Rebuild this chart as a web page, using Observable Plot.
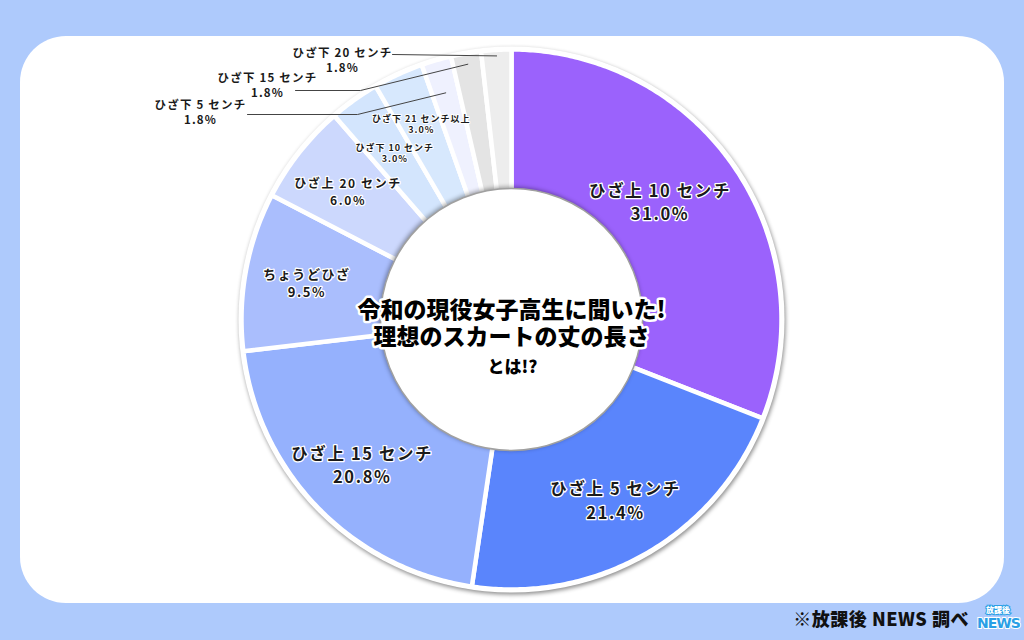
<!DOCTYPE html>
<html>
<head>
<meta charset="utf-8">
<script src="https://cdn.jsdelivr.net/npm/d3@7"></script>
<script src="https://cdn.jsdelivr.net/npm/@observablehq/plot@0.6"></script>
<style>
  html, body { margin: 0; padding: 0; }
  body { width: 1024px; height: 640px; overflow: hidden; position: relative; background: #aecafc; font-family: "Noto Sans CJK JP", "Noto Sans", sans-serif; }
  #card { position: absolute; left: 20px; top: 36px; width: 984px; height: 567px; background: #ffffff; border-radius: 46px; }
  #chart { position: absolute; left: 0; top: 0; }
  #caption { position: absolute; right: 55px; top: 604px; font-size: 18px; font-weight: 900; color: #111; letter-spacing: 0.5px; line-height: 28px; }
  #logo { position: absolute; left: 977px; top: 605px; width: 42px; text-align: center; }
  #logo .a { font-size: 8px; line-height: 10px; height: 10px; font-weight: 900; color: #fff; -webkit-text-stroke: 2px #2a9fe6; paint-order: stroke; display: block; }
  #logo .b { font-size: 14px; line-height: 16px; height: 16px; font-weight: 900; color: #2a9fe6; -webkit-text-stroke: 2px #ffffff; paint-order: stroke; display: block; font-family: "DejaVu Sans", sans-serif; letter-spacing: -1px; }
</style>
</head>
<body>
<div id="card"></div>
<div id="chart"></div>
<div id="caption">※放課後 NEWS 調べ</div>
<div id="logo"><span class="a">放課後</span><span class="b">NEWS</span></div>
<script>
// ---- data ----
const labels = ["ひざ上 10 センチ", "ひざ上 5 センチ", "ひざ上 15 センチ", "ちょうどひざ", "ひざ上 20 センチ",
                "ひざ下 10 センチ", "ひざ下 21 センチ以上", "ひざ下 5 センチ", "ひざ下 15 センチ", "ひざ下 20 センチ"];
const values = [31.0, 21.4, 20.8, 9.5, 6.0, 3.0, 3.0, 1.8, 1.8, 1.8];
const colors = ["#9b62fc", "#5a85fc", "#95b1fd", "#aabefd", "#ccd8fd", "#d3e5fd", "#d7e8fd", "#eff1fe", "#e4e4e4", "#ededed"];
const titleLines = ["令和の現役女子高生に聞いた!", "理想のスカートの丈の長さ"];
const titleTail = "とは!?";

// ---- layout ----
const W = 1024, H = 640, cx = 511, cy = 319, R = 270, R0 = 131;
const labelR = 208;
const labelOverride = {0: {r: 190, shift: -4.3}, 5: {r: 203, shift: 0.5}, 6: {r: 215, shift: 0}}; // degrees
const outsideLayout = {
  "ひざ下 5 センチ":  {tx: -311, ty: -208, sx: -264, ly: -205, ex: -154, er: 236},
  "ひざ下 15 センチ": {tx: -244, ty: -235, sx: -216, ly: -229, ex: -151, er: 259},
  "ひざ下 20 センチ": {tx: -169, ty: -260, sx: -119, ly: -265, ex: null, er: 264}
};

const pie = d3.pie().sort(null).value(d => d)(values);
const pt = (r, a) => ({x: r * Math.sin(a), y: -r * Math.cos(a)});

const polys = [];
pie.forEach((p, i) => {
  const n = Math.max(4, Math.ceil((p.endAngle - p.startAngle) / 0.01));
  for (let k = 0; k <= n; k++) {
    const a = p.startAngle + (p.endAngle - p.startAngle) * k / n;
    polys.push({label: labels[i], ...pt(R, a)});
  }
  for (let k = n; k >= 0; k--) {
    const a = p.startAngle + (p.endAngle - p.startAngle) * k / n;
    polys.push({label: labels[i], ...pt(110, a)});
  }
});

const fontFor = v => v >= 20 ? 16.5 : v >= 9 ? 13 : v >= 5 ? 12 : 9;

const insideBig = [], insideSmall = [], outside = [], leaders = [];
pie.forEach((p, i) => {
  const lab = labels[i], v = values[i];
  const mid = (p.startAngle + p.endAngle) / 2;
  const text = lab + "\n" + v.toFixed(1) + "%";
  if (outsideLayout[lab]) {
    const L = outsideLayout[lab];
    outside.push({x: L.tx, y: L.ty, text});
    leaders.push({k: lab, x: L.sx, y: L.ly});
    if (L.ex !== null) leaders.push({k: lab, x: L.ex, y: L.ly});
    leaders.push({k: lab, ...pt(L.er, mid)});
  } else {
    const o = labelOverride[i] || {r: labelR, shift: 0};
    const c = pt(o.r, mid + o.shift * Math.PI / 180);
    (v >= 5 ? insideBig : insideSmall).push({...c, text, size: fontFor(v)});
  }
});

const font = "Noto Sans CJK JP";
const chart = Plot.plot({
  width: W, height: H, margin: 0,
  x: {domain: [-cx, W - cx], axis: null},
  y: {domain: [H - cy, -cy], axis: null},
  r: {type: "identity"},
  color: {domain: labels, range: colors},
  style: {background: "transparent", overflow: "visible"},
  marks: [
    Plot.dot([{x: 0, y: 0, r: R + 3}], {x: "x", y: "y", r: "r", fill: "white"}),                                   // 0
    Plot.line(polys, {x: "x", y: "y", z: "label", fill: "label", stroke: "white", strokeWidth: 4.5, curve: "linear-closed"}), // 1
    Plot.dot([{x: 0, y: 0, r: R0}], {x: "x", y: "y", r: "r", fill: "white", stroke: "#a0a0a0", strokeWidth: 1.5}),   // 2
    Plot.line(leaders, {x: "x", y: "y", z: "k", stroke: "#444", strokeWidth: 1}),                                   // 3
    Plot.text(insideBig, {x: "x", y: "y", text: "text", fontSize: "size", fontFamily: font, fontWeight: "bold",
      fill: "#1a1a1a", stroke: "white", strokeWidth: 2.5, lineHeight: 1.4}),                                         // 4
    Plot.text(insideSmall, {x: "x", y: "y", text: "text", fontSize: "size", fontFamily: font, fontWeight: "bold",
      fill: "#1a1a1a", stroke: "white", strokeWidth: 2, lineHeight: 1.2}),                                          // 5
    Plot.text(outside, {x: "x", y: "y", text: "text", fontSize: 11.5, fontFamily: font, fontWeight: "bold",
      fill: "#1a1a1a", lineHeight: 1.35}),                                                                           // 6
    Plot.text([titleLines.join("\n")], {x: () => 0, y: () => 3, text: d => d, fontSize: 23, fontFamily: font, fontWeight: 900,
      fill: "#000", stroke: "white", strokeWidth: 5, lineHeight: 1.2}),                                              // 7
    Plot.text([titleTail], {x: () => 1, y: () => 48, text: d => d, fontSize: 17, fontFamily: font, fontWeight: 900,
      fill: "#000", stroke: "white", strokeWidth: 4})                                                                // 8
  ]
});
const groups = chart.querySelectorAll(":scope > g");
const gs = k => d3.select(groups[k]);
gs(0).style("filter", "drop-shadow(1.5px 2px 2px rgba(0,0,0,0.45))");
gs(2).style("filter", "drop-shadow(-1px -1px 2px rgba(0,0,0,0.35))");
gs(4).style("letter-spacing", "1.6px");
gs(5).style("letter-spacing", "1px");
gs(6).style("letter-spacing", "1.2px");
document.getElementById("chart").appendChild(chart);
</script>
</body>
</html>
